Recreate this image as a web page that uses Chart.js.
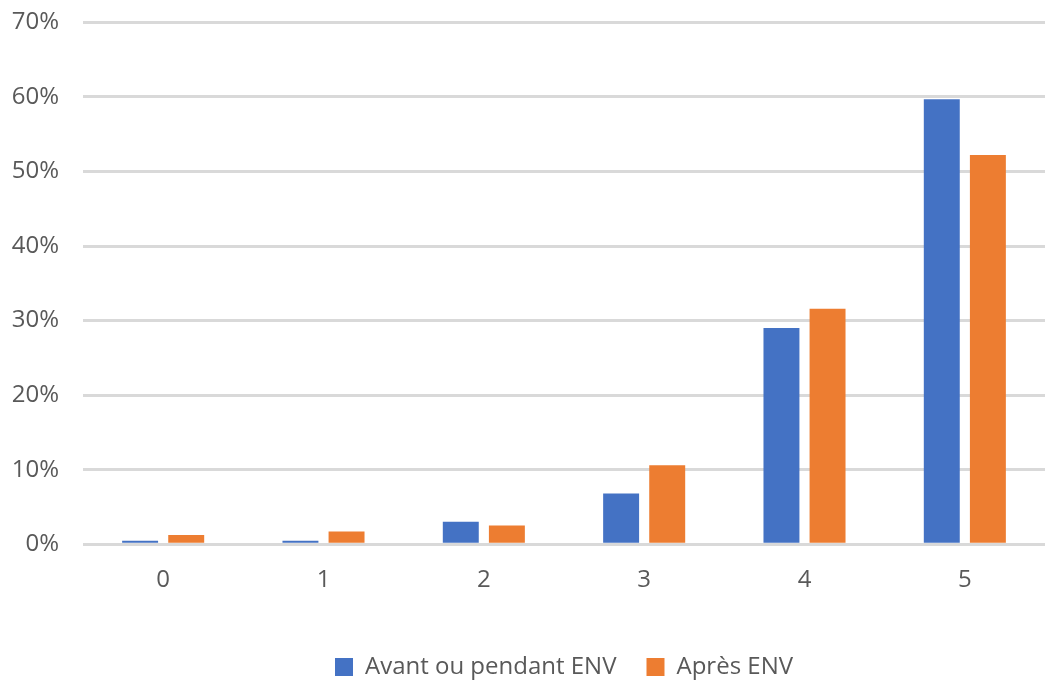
<!DOCTYPE html>
<html>
<head>
<meta charset="utf-8">
<script src="https://cdn.jsdelivr.net/npm/chart.js@4/dist/chart.umd.min.js"></script>
<style>
  html, body { margin: 0; padding: 0; background: #fff; overflow: hidden; }
  /* canvas a bit taller than the window so the plot sits as high as in the source */
  #wrap { width: 1046px; height: 707px; margin-top: -16px; }
</style>
</head>
<body>
<div id="wrap"><canvas id="chart"></canvas></div>
<script>
// categories + series (percent)
const categories = ['0', '1', '2', '3', '4', '5'];
const avantValues = [0.45, 0.45, 3.0, 6.8, 29.0, 59.7];
const apresValues = [1.25, 1.7, 2.5, 10.6, 31.6, 52.2];
const seriesLabels = ['Avant ou pendant ENV', 'Après ENV'];
const yTicks = [0, 10, 20, 30, 40, 50, 60, 70];

const FONT = "'Open Sans', 'Liberation Sans', sans-serif";
const TEXT = '#595959';

new Chart(document.getElementById('chart'), {
  type: 'bar',
  data: {
    labels: categories,
    datasets: [
      { label: seriesLabels[0], data: avantValues, backgroundColor: '#4472C4' },
      { label: seriesLabels[1], data: apresValues, backgroundColor: '#ED7D31' }
    ]
  },
  options: {
    responsive: true,
    maintainAspectRatio: false,
    animation: false,
    categoryPercentage: 0.575,
    barPercentage: 0.78,
    layout: { padding: { top: -6, right: 1, left: 0, bottom: 2 } },
    plugins: {
      tooltip: { enabled: false },
      legend: {
        position: 'bottom',
        fullSize: false,   // centre under the plot, not the whole canvas
        labels: {
          color: TEXT,
          font: { family: FONT, size: 24 },
          boxWidth: 18,
          boxHeight: 18,
          padding: 30
        }
      }
    },
    scales: {
      x: {
        grid: { display: false },
        border: { display: false },
        ticks: { color: TEXT, font: { family: FONT, size: 24 }, padding: 14 },
        afterFit: axis => { axis.height += 16; }   // extra room above the legend
      },
      y: {
        min: 0,
        max: 70,
        afterBuildTicks: axis => { axis.ticks = yTicks.map(v => ({ value: v })); },
        afterFit: axis => { axis.width = 83; },
        grid: { color: '#d9d9d9', lineWidth: 3, drawTicks: false },
        border: { display: false },
        ticks: {
          color: TEXT,
          font: { family: FONT, size: 24 },
          padding: 24,
          callback: v => v + '%'
        }
      }
    }
  }
});
</script>
</body>
</html>
